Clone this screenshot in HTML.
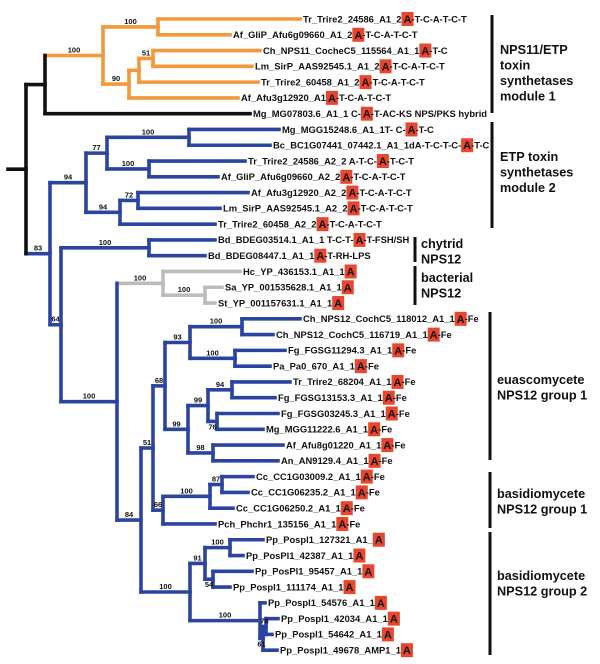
<!DOCTYPE html>
<html><head><meta charset="utf-8"><style>
html,body{margin:0;padding:0;background:#fff;}
svg{display:block;font-family:"Liberation Sans",Arial,sans-serif;}
.bs{font-size:7.5px;font-weight:bold;fill:#111;}
.gp{font-size:12.7px;font-weight:bold;fill:#111;}
</style></head><body>
<svg id="tree" width="600" height="664" viewBox="0 0 600 664" xmlns="http://www.w3.org/2000/svg">
<g id="edges"></g>
<g id="boots"></g>
<g id="leaves"></g>
<g id="groups">
<line x1="492" y1="15" x2="492" y2="113" stroke="#111" stroke-width="3"/>
<text class="gp" x="500" y="54"><tspan x="500">NPS11/ETP</tspan><tspan x="500" dy="15.5">toxin</tspan><tspan x="500" dy="15.5">synthetases</tspan><tspan x="500" dy="15.5">module 1</tspan></text>
<line x1="492" y1="122" x2="492" y2="228" stroke="#111" stroke-width="3"/>
<text class="gp" x="500" y="161"><tspan x="500">ETP toxin</tspan><tspan x="500" dy="15.5">synthetases</tspan><tspan x="500" dy="15.5">module 2</tspan></text>
<line x1="415" y1="237" x2="415" y2="262" stroke="#111" stroke-width="3"/>
<text class="gp" x="421" y="248"><tspan x="421">chytrid</tspan><tspan x="421" dy="15.5">NPS12</tspan></text>
<line x1="415" y1="266" x2="415" y2="305" stroke="#111" stroke-width="3"/>
<text class="gp" x="421" y="282"><tspan x="421">bacterial</tspan><tspan x="421" dy="15.5">NPS12</tspan></text>
<line x1="490" y1="312" x2="490" y2="460" stroke="#111" stroke-width="3"/>
<text class="gp" x="497" y="384"><tspan x="497">euascomycete</tspan><tspan x="497" dy="15.5">NPS12  group 1</tspan></text>
<line x1="490" y1="472" x2="490" y2="528" stroke="#111" stroke-width="3"/>
<text class="gp" x="497" y="498"><tspan x="497">basidiomycete</tspan><tspan x="497" dy="15.5">NPS12  group 1</tspan></text>
<line x1="490" y1="532" x2="490" y2="655" stroke="#111" stroke-width="3"/>
<text class="gp" x="497" y="580"><tspan x="497">basidiomycete</tspan><tspan x="497" dy="15.5">NPS12  group 2</tspan></text>
</g>
</svg>
<script>
// leaf data: name prefix, suffix, branch end (tree depth in px)
const leafPre = ["Tr_Trire2_24586_A1_2 ","Af_GliP_Afu6g09660_A1_2","Ch_NPS11_CocheC5_115564_A1_1","Lm_SirP_AAS92545.1_A1_2","Tr_Trire2_60458_A1_2 ","Af_Afu3g12920_A1","Mg_MG07803.6_A1_1 C-",
"Mg_MGG15248.6_A1_1T- C-","Bc_BC1G07441_07442.1_A1_1dA-T-C-T-C-","Tr_Trire2_24586_A2_2  A-T-C-","Af_GliP_Afu6g09660_A2_2 ","Af_Afu3g12920_A2_2","Lm_SirP_AAS92545.1_A2_2 ","Tr_Trire2_60458_A2_2",
"Bd_BDEG03514.1_A1_1 T-C-T-","Bd_BDEG08447.1_A1_1","Hc_YP_436153.1_A1_1","Sa_YP_001535628.1_A1_1","St_YP_001157631.1_A1_1",
"Ch_NPS12_CochC5_118012_A1_1","Ch_NPS12_CochC5_116719_A1_1 ","Fg_FGSG11294.3_A1_1","Pa_Pa0_670_A1_1 ","Tr_Trire2_68204_A1_1","Fg_FGSG13153.3_A1_1","Fg_FGSG03245.3_A1_1","Mg_MGG11222.6_A1_1 ","Af_Afu8g01220_A1_1 ","An_AN9129.4_A1_1 ",
"Cc_CC1G03009.2_A1_1 ","Cc_CC1G06235.2_A1_1","Cc_CC1G06250.2_A1_1 ","Pch_Phchr1_135156_A1_1",
"Pp_Pospl1_127321_A1_","Pp_PosPl1_42387_A1_1","Pp_PosPl1_95457_A1_1","Pp_Pospl1_111174_A1_1","Pp_Pospl1_54576_A1_1 ","Pp_Pospl1_42034_A1_1 ","Pp_Pospl1_54642_A1_1 ","Pp_Pospl1_49678_AMP1_1"];
const leafSuf = ["-T-C-A-T-C-T","-T-C-A-T-C-T","-T-C","-T-C-A-T-C-T","-T-C-A-T-C-T","-T-C-A-T-C-T","-T-AC-KS  NPS/PKS hybrid",
"-T-C","-T-C","-T-C-T","-T-C-A-T-C-T","-T-C-A-T-C-T","-T-C-A-T-C-T","-T-C-A-T-C-T",
"-T-FSH/SH","-T-RH-LPS","","","",
"-Fe","-Fe","-Fe","-Fe","-Fe","-Fe","-Fe","-Fe","-Fe","-Fe","-Fe","-Fe","-Fe","-Fe",
"","","","","","","",""];
const leafEnd = [300,230,260,252,258,238,250, 279,270,245,218,248,220,215, 215,205,240,222,215,
300,273,285,270,290,275,278,263,283,278,253,248,233,215, 263,243,252,230,265,278,272,277];
function N(x,b,c,kids,below){return {x:x,b:b,c:c,k:kids,below:!!below};}
const O="#f29a3a",B="#2b44a0",G="#bcbcbc",K="#111";
const tree = N(26,null,K,[
  N(45,null,K,[
    N(103,100,O,[N(158,100,O,[0,1]), N(129,90,O,[N(139,null,O,[N(153,51,O,[2,3]),4]),5])]),
    6]),
  N(50,83,B,[
    N(86,94,B,[
      N(107,77,B,[N(189,100,B,[7,8]),N(149,100,B,[9,10])]),
      N(120,94,B,[N(138,72,B,[11,12]),13])]),
    N(61,64,B,[
      N(149,100,B,[14,15]),
      N(117,100,B,[
        N(163,100,G,[16,N(205,100,G,[17,18])]),
        N(141,84,B,[
          N(153,51,B,[
            N(165,68,B,[
              N(190,93,B,[N(242,100,B,[19,20]),N(235,100,B,[21,22])]),
              N(188,99,B,[N(208,99,B,[N(232,94,B,[23,24]),N(217,76,B,[25,26],true)]),N(213,98,B,[27,28])])]),
            N(163,66,B,[N(210,100,B,[N(222,87,B,[29,30]),31]),32])]),
          N(190,100,B,[
            N(205,91,B,[N(230,100,B,[33,34]),N(213,54,B,[35,36],true)]),
            N(260,100,B,[37,N(263,61,B,[N(266,78,B,[38,39]),40],true)])])])])])])]);
const y0=19, dy=15.78, SW=3.6;
const NS="http://www.w3.org/2000/svg";
const eg=document.getElementById('edges'), bg=document.getElementById('boots'), lg=document.getElementById('leaves');
function yOf(i){return y0+i*dy;}
function line(x1,y1,x2,y2,col,name){
  const l=document.createElementNS(NS,'line');
  l.setAttribute('x1',x1);l.setAttribute('y1',y1);l.setAttribute('x2',x2);l.setAttribute('y2',y2);
  l.setAttribute('stroke',col);l.setAttribute('stroke-width',SW);l.setAttribute('stroke-linecap','square');
  
  
  eg.appendChild(l);
}
function draw(n,px,col){
  if(typeof n==='number'){
    const y=yOf(n);
    line(px,y,leafEnd[n],y,col,'leaf-branch');
    return y;
  }
  const ys=n.k.map(k=>draw(k,n.x,(typeof k==='number')?n.c:k.c));
  const y=(ys[0]+ys[ys.length-1])/2;
  line(n.x,ys[0],n.x,ys[ys.length-1],n.c,'node-vertical');
  if(px!==null){
    line(px,y,n.x,y,n.c,'internal-branch');
    if(n.b!==null){
      const t=document.createElementNS(NS,'text');
      t.setAttribute('class','bs');
      t.setAttribute('x',(px+n.x)/2);t.setAttribute('y',n.below?y+8:y-3);
      t.setAttribute('text-anchor','middle');t.textContent=n.b;
      
      
      bg.appendChild(t);
    }
  }
  return y;
}
const ry=draw(tree,null,K);
line(8,ry,26,ry,K,'root-branch');
const TS='font-size:9.4px;font-weight:bold;fill:#111;letter-spacing:0px;';
for(let i=0;i<leafPre.length;i++){
  const y=yOf(i), x=leafEnd[i]+3;
  const g=document.createElementNS(NS,'g');
  
  
  lg.appendChild(g);
  const t1=document.createElementNS(NS,'text');
  t1.setAttribute('style',TS);t1.setAttribute('x',x);t1.setAttribute('y',y+3.3);
  t1.textContent=leafPre[i];
  g.appendChild(t1);
  const w=t1.getComputedTextLength();
  const ax=x+w;
  const r=document.createElementNS(NS,'rect');
  r.setAttribute('x',ax);r.setAttribute('y',y-7);r.setAttribute('width',12);r.setAttribute('height',14);
  r.setAttribute('fill','#e8472e');
  
  
  g.appendChild(r);
  const t2=document.createElementNS(NS,'text');
  t2.setAttribute('style','font-size:11px;font-weight:bold;fill:#111;');
  t2.setAttribute('x',ax+2);t2.setAttribute('y',y+4);
  t2.textContent='A';
  g.appendChild(t2);
  if(leafSuf[i]){
    const t3=document.createElementNS(NS,'text');
    t3.setAttribute('style',TS);t3.setAttribute('x',ax+10);t3.setAttribute('y',y+3.3);
    t3.textContent=leafSuf[i];
    g.appendChild(t3);
  }
}
</script>
</body></html>
